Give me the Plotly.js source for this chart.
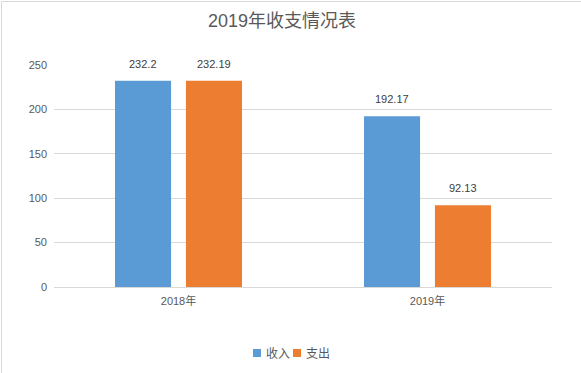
<!DOCTYPE html>
<html>
<head>
<meta charset="utf-8">
<script src="https://cdn.plot.ly/plotly-3.0.1.min.js"></script>
<style>
html,body{margin:0;padding:0;background:#fff;}
#chart{width:581px;height:373px;}
</style>
</head>
<body>
<div id="chart"></div>
<script>
const categories = ["2018年", "2019年"];
const incomeValues = [232.2, 192.17];
const expenseValues = [232.19, 92.13];
const seriesNames = ["收入", "支出"];
const seriesColors = ["#5B9BD5", "#ED7D31"];
const yTicks = [0, 50, 100, 150, 200, 250];

const FONT = "Liberation Sans, Noto Sans CJK SC, sans-serif";

// plot area in pixels: x 54..552, y 65..287
const PL = 54, PR = 552, PT = 65, PB = 287;
const px2x = px => (px - PL) / (PR - PL);
const px2y = py => (PB - py) / (PB - PT);

const traces = [
  {type: "bar", name: seriesNames[0], x: categories, y: incomeValues,
   marker: {color: seriesColors[0]}, hoverinfo: "none"},
  {type: "bar", name: seriesNames[1], x: categories, y: expenseValues,
   marker: {color: seriesColors[1]}, hoverinfo: "none"}
];

const annotations = [];
[incomeValues, expenseValues].forEach((vals, si) => {
  vals.forEach((v, i) => {
    annotations.push({
      x: categories[i], y: v, xref: "x", yref: "y",
      text: String(v), showarrow: false,
      xshift: si === 0 ? -35.5 : 35.5, yshift: 9,
      yanchor: "bottom", xanchor: "center",
      font: {family: FONT, size: 11, color: "#404040"}
    });
  });
});

// custom legend (square + label)
const legendSquareLeft = [253, 293];
const legendTextLeft = [264, 304];
const shapes = [{type: "rect", xref: "paper", yref: "paper",
            x0: px2x(1.5), x1: 1.2, y0: -0.6, y1: px2y(1.5),
            line: {color: "#d9d9d9", width: 1}, fillcolor: "rgba(0,0,0,0)", layer: "below"}];
seriesNames.forEach((name, si) => {
  shapes.push({type: "rect", xref: "paper", yref: "paper",
    x0: px2x(legendSquareLeft[si]), x1: px2x(legendSquareLeft[si] + 8),
    y0: px2y(357), y1: px2y(349),
    line: {width: 0}, fillcolor: seriesColors[si]});
  annotations.push({xref: "paper", yref: "paper", x: px2x(legendTextLeft[si]), y: px2y(353.5),
    xanchor: "left", yanchor: "middle", showarrow: false, text: name,
    font: {family: FONT, size: 12, color: "#595959"}});
});

const layout = {
  width: 581, height: 373,
  margin: {l: PL, r: 581 - PR, t: PT, b: 373 - PB},
  paper_bgcolor: "#fff", plot_bgcolor: "#fff",
  title: {text: "2019年收支情况表", x: 282 / 581, xref: "container", xanchor: "center",
          y: 1 - 20.5 / 373, yref: "container", yanchor: "middle",
          font: {family: FONT, size: 18, color: "#595959"}},
  barmode: "group", bargap: 0.43, bargroupgap: 0.21,
  xaxis: {type: "category", showgrid: false, showline: true, linecolor: "#d9d9d9",
          linewidth: 1, ticks: "", tickfont: {family: FONT, size: 11, color: "#595959"},
          ticklabelstandoff: 4, fixedrange: true},
  yaxis: {range: [0, 250], tickvals: yTicks, showgrid: true, gridcolor: "#d9d9d9",
          gridwidth: 1, zeroline: false, showline: false, ticks: "",
          ticklabelstandoff: 6,
          tickfont: {family: FONT, size: 11, color: "#595959"}, fixedrange: true},
  showlegend: false,
  annotations: annotations,
  shapes: shapes
};

Plotly.newPlot("chart", traces, layout, {displayModeBar: false, staticPlot: true});
</script>
</body>
</html>
